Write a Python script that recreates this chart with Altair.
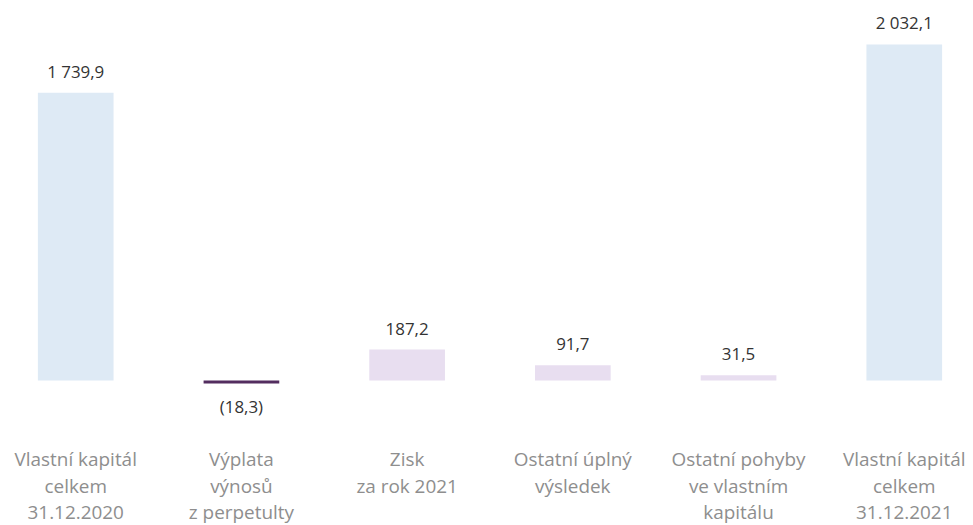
import altair as alt
import pandas as pd

categories = [
    "Vlastní kapitál|celkem|31.12.2020",
    "Výplata|výnosů|z perpetulty",
    "Zisk|za rok 2021",
    "Ostatní úplný|výsledek",
    "Ostatní pohyby|ve vlastním|kapitálu",
    "Vlastní kapitál|celkem|31.12.2021",
]
values = [1739.9, -18.3, 187.2, 91.7, 31.5, 2032.1]
labels = ["1 739,9", "(18,3)", "187,2", "91,7", "31,5", "2 032,1"]
kinds = ["total", "negative", "positive", "positive", "positive", "total"]

df = pd.DataFrame({"cat": categories, "value": values, "label": labels, "kind": kinds})

x = alt.X(
    "cat:N",
    sort=categories,
    scale=alt.Scale(range=[30, 938], paddingInner=0.5433, paddingOuter=0, round=False),
    axis=alt.Axis(
        title=None,
        labelAngle=0,
        labelExpr="split(datum.label, '|')",
        labelFontSize=19,
        labelColor="#8e8e8e",
        labelFont="Open Sans",
        labelLineHeight=27,
        labelPadding=31,
        labelBaseline="top",
        domain=False,
        ticks=False,
        grid=False,
        labelLimit=300,
    ),
)
y = alt.Y(
    "value:Q",
    scale=alt.Scale(domain=[-234.8, 2245.6], nice=False, zero=False),
    axis=None,
)

base = alt.Chart(df)

bars = base.mark_bar().encode(
    x=x,
    y=y,
    y2=alt.datum(0),
    color=alt.Color(
        "kind:N",
        scale=alt.Scale(
            domain=["total", "negative", "positive"],
            range=["#deeaf5", "#532d5f", "#e8def0"],
        ),
        legend=None,
    ),
)

text_pos = base.transform_filter("datum.value >= 0").mark_text(
    baseline="bottom", dy=-11, fontSize=17, font="Open Sans", color="#333333"
).encode(x=x, y=y, text="label:N")

text_neg = base.transform_filter("datum.value < 0").mark_text(
    baseline="top", dy=17, fontSize=17, font="Open Sans", color="#333333"
).encode(x=x, y=y, text="label:N")

chart = (
    alt.layer(bars, text_pos, text_neg)
    .properties(width=957, height=412, padding={"left": 0, "top": 0, "right": 0, "bottom": 2})
    .configure_view(stroke=None)
)

chart.save("out.html", embed_options={"renderer": "svg", "actions": False})
